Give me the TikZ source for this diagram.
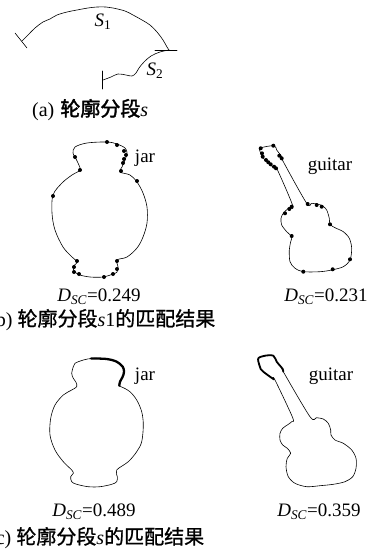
\documentclass[tikz,border=0pt]{standalone}
\usepackage{fontspec}
\setmainfont{Liberation Serif}
\newfontfamily\cjk[FakeBold=1]{Noto Sans CJK SC}
\newfontfamily\cjkheavy[FakeBold=2]{Noto Sans CJK SC}
\usetikzlibrary{arrows.meta}

\tikzset{
  outline/.style={line width=0.6pt,line join=round},
  hilite/.style={line width=2.3pt,line cap=round,line join=round},
  lbl/.style={font=\fontsize{19}{21}\selectfont},
  capt/.style={anchor=base west,inner sep=0pt,font=\fontsize{20}{22}\selectfont},
}
\newcommand{\dsc}[1]{\textit{D}\textsubscript{\textit{SC}}=#1}
\newcommand{\keypts}[1]{\foreach \p in {#1} \fill \p circle (2pt);}

\begin{document}
\begin{tikzpicture}[x=1pt,y=-1pt,line cap=round]
\useasboundingbox (0,0) rectangle (384,557);

% (a) the two pieces of the contour
\draw[outline] plot[smooth,tension=0.6] coordinates {(22,41) (28,35) (35,28) (43,22) (50,19) (57,15) (67,12) (77,10) (88,8) (97,7) (106,7) (113,8) (125,11) (133,15) (142,20) (150,25) (157,32) (163,40) (167,47) (169,50)};
\draw[outline] (15,33) -- (27,48);
\draw[outline] (155,50) -- (177,50);
\draw[outline] plot[smooth,tension=0.6] coordinates {(169,50) (160,52) (151,56) (144,62) (139,68) (136,73) (132,76) (126,75) (118,74) (111,77) (103,80)};
\draw[outline] (102,71) -- (102,89);
\node[lbl] (s1) at (103,22) {\textit{S}\textsubscript{1}};
\node[lbl] (s2) at (155,71) {\textit{S}\textsubscript{2}};
\node[capt] (capa) at (32,116) {(a)\hspace{6pt}{\cjkheavy 轮廓分段}\textit{s}};

% (b) matches of s1
\draw[outline] plot[smooth cycle,tension=0.55] coordinates {(75,147) (87,143) (107,142) (117,144) (125,148) (127,153) (125,160) (122,167) (120,172) (130,175) (137,182) (143,193) (147,207) (147,223) (143,237) (137,248) (127,257) (117,260) (118,267) (117,272) (113,274) (103,277) (90,277) (80,275) (75,272) (73,267) (77,262) (72,257) (63,247) (55,230) (52,213) (53,195) (62,183) (72,175) (80,170) (78,163) (75,157) (73,153)};
\keypts{(107,142),(117,145),(124,151),(126,155),(124,159),(123,163),(121,171),(80,170),(75,157),(137,181),(53,196),(77,261),(74,267),(74,272),(79,274),(104,277),(113,274),(117,269),(117,261)}
\node[lbl] (jarb) at (145,158) {jar};
\node[lbl] (db1) at (99,297) {\dsc{0.249}};

\draw[outline] plot[smooth cycle,tension=0.5] coordinates {(260,148.3) (274,145.7) (276.7,150) (280,154.3) (282.7,158.3) (283.3,161.7) (306.7,203.3) (311.7,203.3) (318.3,204.3) (322.7,206) (326.7,210) (329.3,218.3) (330,224.3) (335,227.7) (343.3,231.7) (349.3,238.3) (351.7,248.3) (350,260) (343.3,266.7) (331.7,270) (320,271.7) (303.3,271.7) (295,268.3) (290,261.7) (289.3,250) (290.7,241.7) (291.7,236.7) (286.7,231.7) (281.7,225) (281,218.3) (283.3,213.3) (288.3,208.3) (292.7,205.7) (276.7,168.3) (274,167.3) (270,165) (266.7,161.7) (263.3,158.3) (261.7,155)};
\keypts{(260.7,148.3),(273.3,145.7),(262,153.3),(262.7,156.7),(266,160),(268.3,162.3),(270.7,164.3),(274,166.7),(276,168.3),(279.3,155.7),(281.7,158.3),(291.7,206.7),(289.3,209),(285,213.3),(307.7,204),(316.7,205),(321.7,206.7),(330,224.3),(291.7,236),(303.3,271.7),(332.7,269.3),(350,259.3)}
\node[lbl] (guitb) at (330,166) {guitar};
\node[lbl] (db2) at (326,297) {\dsc{0.231}};
\node[capt] (capb) at (-11,326) {(b) {\cjk 轮廓分段}\textit{s}1{\cjk 的匹配结果}};

% (c) matches of the whole s
\draw[outline] plot[smooth cycle,tension=0.55] coordinates {(75,363.3) (83.3,360) (93.3,358.3) (106.7,359) (116.7,361.7) (122.7,366.7) (124,371.7) (122.7,376.7) (120,381.7) (119.3,385.7) (123.3,387.7) (130,391.7) (136.7,400) (141.7,411.7) (143.3,425) (141.7,441.7) (136.7,451.7) (128.3,461.7) (116.7,470) (117.3,476.7) (116.7,481.7) (111.7,484.3) (100,486.7) (88.3,486.7) (76.7,484.3) (71.7,481.7) (70.7,476.7) (73.3,473.3) (71.7,470) (63.3,461.7) (55,450) (50,435) (50.7,418.3) (55,405) (63.3,395) (71.7,390) (76.7,386.7) (76,382.3) (73.3,378.3) (71.7,373.3) (73.3,366.7)};
\draw[hilite] plot[smooth,tension=0.55] coordinates {(91,358.4) (106.7,359) (116.7,361.7) (122.7,366.7) (124,371.7) (122.7,376.7) (120,381.7) (119.3,385.7)};
\node[lbl] (jarc) at (145,376) {jar};
\node[lbl] (dc1) at (94,512) {\dsc{0.489}};

\draw[outline] plot[smooth cycle,tension=0.5] coordinates {(258.3,358.3) (265,355.7) (273.3,355.7) (276.7,361.7) (280,365.7) (282.7,369) (283.3,371.7) (310,416.7) (316.7,417.7) (323.3,419) (328.3,423.3) (330.7,430) (331,435) (335,440) (343.3,443.3) (351.7,450) (356,458.3) (356,468.3) (352.7,476.7) (345,481.7) (333.3,484.3) (320,485.7) (306.7,486.7) (295,483.3) (288.3,476.7) (286,466.7) (287.3,458.3) (290.7,453.3) (287.3,448.3) (282.7,445) (280,440) (280,433.3) (282.7,428.3) (287.3,425) (291.7,421.7) (292.7,417.7) (275,380) (272.7,378.3) (270,376.7) (266.7,374.3) (264,372.3) (260.7,369) (259.3,365)};
\draw[hilite,line width=1.8pt] plot[smooth,tension=0.5] coordinates {(274,379.5) (270,376.7) (266.7,374.3) (264,372.3) (260.7,369) (259.3,365) (258.3,358.3) (265,355.7) (273.3,355.7) (276.7,361.7) (280,365.7) (282.7,369) (283.3,371.7)};
\node[lbl] (guitc) at (331,376) {guitar};
\node[lbl] (dc2) at (319,512) {\dsc{0.359}};
\node[capt] (capc) at (-11,544) {(c) {\cjk 轮廓分段}\textit{s}{\cjk 的匹配结果}};
\end{tikzpicture}
\end{document}
